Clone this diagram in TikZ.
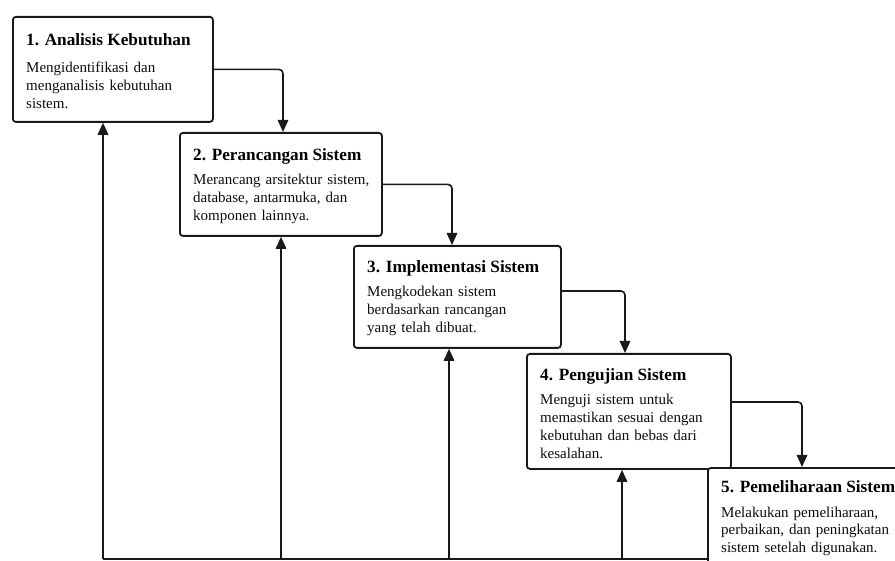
\documentclass[tikz,border=0pt]{standalone}
\usepackage{fontspec}
\setmainfont{Liberation Serif}
\usetikzlibrary{arrows.meta, positioning, calc}

\begin{document}
\begin{tikzpicture}[x=1pt, y=-1pt,
	stage/.style={draw=black!90, line width=1.8pt, rounded corners=3pt, fill=white, inner sep=0pt, anchor=north west},
	stagetitle/.style={anchor=base west, inner sep=0pt, font=\fontsize{17.2}{20}\selectfont\bfseries, text=black},
	stagetext/.style={anchor=base west, inner sep=0pt, text width=195pt, align=left, font=\fontsize{15}{17.8}\selectfont, text=black!95},
	flow/.style={draw=black!90, line width=1.6pt, rounded corners=4pt, -{Triangle[length=12pt, width=10.5pt]}},
	back/.style={draw=black!90, line width=1.6pt}]
	\useasboundingbox (0,0) rectangle (895,561);
	\clip (0,0) rectangle (895,561);
	% stages
	\node[stage, minimum width=200, minimum height=105] (b1) at (12,16) {};
	\node[stage, minimum width=202, minimum height=103] (b2) at (179,132) {};
	\node[stage, minimum width=207, minimum height=102] (b3) at (353,245) {};
	\node[stage, minimum width=204, minimum height=115] (b4) at (526,353) {};
	\node[stage, minimum width=210, minimum height=120] (b5) at (707,467) {};
	% titles and descriptions
	\node[stagetitle] (t1) at ($(b1.north west)+(14,30)$) {1. Analisis Kebutuhan};
	\node[stagetext] (d1) at ($(b1.north west)+(14,57)$) {Mengidentifikasi dan\\ menganalisis kebutuhan\\ sistem.};
	\node[stagetitle] (t2) at ($(b2.north west)+(14,29)$) {2. Perancangan Sistem};
	\node[stagetext] (d2) at ($(b2.north west)+(14,53)$) {Merancang arsitektur sistem,\\ database, antarmuka, dan\\ komponen lainnya.};
	\node[stagetitle] (t3) at ($(b3.north west)+(14,28)$) {3. Implementasi Sistem};
	\node[stagetext] (d3) at ($(b3.north west)+(14,52)$) {Mengkodekan sistem\\ berdasarkan rancangan\\ yang telah dibuat.};
	\node[stagetitle] (t4) at ($(b4.north west)+(14,28)$) {4. Pengujian Sistem};
	\node[stagetext] (d4) at ($(b4.north west)+(14,52)$) {Menguji sistem untuk\\ memastikan sesuai dengan\\ kebutuhan dan bebas dari\\ kesalahan.};
	\node[stagetitle] (t5) at ($(b5.north west)+(14,25)$) {5. Pemeliharaan Sistem};
	\node[stagetext] (d5) at ($(b5.north west)+(14,50)$) {Melakukan pemeliharaan,\\ perbaikan, dan peningkatan\\ sistem setelah digunakan.};
	% forward flow
	\draw[flow] (b1.east) -| ($(b2.north west)+(104,0)$);
	\draw[flow] (b2.east) -| ($(b3.north west)+(99,0)$);
	\draw[flow] ($(b3.north east)+(0,46)$) -| ($(b4.north west)+(99,0)$);
	\draw[flow] ($(b4.north east)+(0,49)$) -| ($(b5.north west)+(95,0)$);
	% feedback
	\coordinate (base) at (0,559);
	\coordinate (u1) at ($(b1.south west)+(91,0)$);
	\coordinate (u2) at ($(b2.south west)+(102,0)$);
	\coordinate (u3) at ($(b3.south west)+(96,0)$);
	\coordinate (u4) at ($(b4.south west)+(96,0)$);
	\draw[back] (b5.west |- base) -- (u1 |- base);
	\foreach \i in {1,...,4}
		\draw[flow] (u\i |- base) -- (u\i);
\end{tikzpicture}
\end{document}
